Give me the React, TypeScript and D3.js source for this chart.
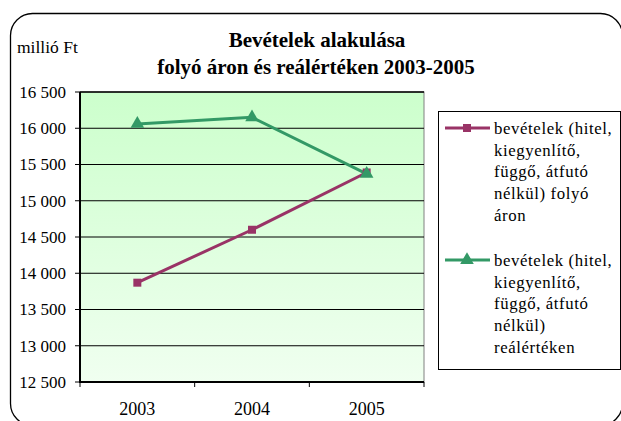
import React from "react";
import * as d3 from "d3";

const years = ["2003", "2004", "2005"];
const folyoAron = [13870, 14600, 15390];
const realErtek = [16060, 16150, 15370];
const yTicks = [12500, 13000, 13500, 14000, 14500, 15000, 15500, 16000, 16500];
const titleLines = ["Bevételek alakulása", "folyó áron és reálértéken 2003-2005"];
const unitLabel = "millió Ft";
const legend1 = ["bevételek (hitel,", "kiegyenlítő,", "függő, átfutó", "nélkül) folyó", "áron"];
const legend2 = ["bevételek (hitel,", "kiegyenlítő,", "függő, átfutó", "nélkül)", "reálértéken"];

const FONT = "Liberation Serif";
const C1 = "#993366";
const C2 = "#339966";
const ts = (size: number, bold = false, ls = 0): React.CSSProperties => ({ fontFamily: FONT, fontSize: size, fontWeight: bold ? "bold" : "normal", letterSpacing: ls });

export default function App() {
  const W = 621, H = 421;
  const L = 80, R = 424, T = 92, B = 382;
  const x = d3.scaleBand<string>().domain(years).range([L, R]);
  const y = d3.scaleLinear().domain([12500, 16500]).range([B, T]);
  const fmt = d3.formatLocale({ thousands: " ", grouping: [3], decimal: ",", currency: ["", ""] }).format(",");
  const line = d3.line<number>().x((_, i) => x(years[i])! + x.bandwidth() / 2).y((d) => y(d));
  const sq = d3.symbol().type(d3.symbolSquare).size(64)()!;
  const tri = d3.symbol().type(d3.symbolTriangle).size(80)()!;
  const catTicks = [...years.map((c) => x(c)!), R];

  const legX = 438, legY = 111, legW = 182, legH = 258;
  const lineH = 21.8;
  const e1y = 128, e2y = 260;

  return (
    <svg width={W} height={H} style={{ position: "absolute", left: 0, top: 0, background: "#fff" }}>
      <defs>
        <linearGradient id="bg" x1="0" y1="0" x2="0" y2="1">
          <stop offset="0" stopColor="#ccffcc" />
          <stop offset="1" stopColor="#f0fff0" />
        </linearGradient>
      </defs>
      <rect x={10.5} y={13.5} width={612} height={412} rx={22} ry={22} fill="#fff" stroke="#000" strokeWidth={1.3} />
      <text x={317} y={47} textAnchor="middle" style={ts(21, true)}>{titleLines[0]}</text>
      <text x={316} y={74} textAnchor="middle" style={ts(21, true)}>{titleLines[1]}</text>
      <text x={17} y={53} style={ts(17.5)}>{unitLabel}</text>

      <rect x={L} y={T} width={R - L} height={B - T} fill="url(#bg)" stroke="#808080" strokeWidth={1} />
      {yTicks.map((t) => (
        <g key={t}>
          {t !== 12500 && <line x1={L} x2={R} y1={y(t)} y2={y(t)} stroke="#000" strokeWidth={1} />}
          <line x1={L - 5} x2={L} y1={y(t)} y2={y(t)} stroke="#000" strokeWidth={1} />
          <text x={66} y={y(t)} dy="0.35em" textAnchor="end" style={ts(17)}>{fmt(t)}</text>
        </g>
      ))}
      <line x1={L} x2={R} y1={T} y2={T} stroke="#000" strokeWidth={1} />
      <line x1={L} x2={L} y1={T} y2={B + 1} stroke="#000" strokeWidth={2} />
      <line x1={L - 1} x2={R} y1={B} y2={B} stroke="#000" strokeWidth={2} />
      {catTicks.map((cx, i) => (
        <line key={i} x1={cx} x2={cx} y1={B} y2={B + 5} stroke="#000" strokeWidth={1} />
      ))}
      {years.map((c) => (
        <text key={c} x={x(c)! + x.bandwidth() / 2} y={415} textAnchor="middle" style={ts(18)}>{c}</text>
      ))}

      <path d={line(realErtek)!} fill="none" stroke={C2} strokeWidth={3} />
      <path d={line(folyoAron)!} fill="none" stroke={C1} strokeWidth={3} />
      {folyoAron.map((v, i) => (
        <path key={"s" + i} d={sq} transform={`translate(${x(years[i])! + x.bandwidth() / 2},${y(v)})`} fill={C1} />
      ))}
      {realErtek.map((v, i) => (
        <path key={"t" + i} d={tri} transform={`translate(${x(years[i])! + x.bandwidth() / 2},${y(v)})`} fill={C2} />
      ))}

      <rect x={legX + 0.5} y={legY + 0.5} width={legW} height={legH} fill="#fff" stroke="#000" strokeWidth={1} />
      <line x1={445} x2={490} y1={e1y} y2={e1y} stroke={C1} strokeWidth={3} />
      <path d={sq} transform={`translate(467,${e1y})`} fill={C1} />
      {legend1.map((s, i) => (
        <text key={"a" + i} x={494} y={e1y + i * lineH} dy="0.35em" style={ts(16.8, false, 0.6)}>{s}</text>
      ))}
      <line x1={445} x2={490} y1={e2y} y2={e2y} stroke={C2} strokeWidth={3} />
      <path d={tri} transform={`translate(467,${e2y})`} fill={C2} />
      {legend2.map((s, i) => (
        <text key={"b" + i} x={494} y={e2y + i * lineH} dy="0.35em" style={ts(16.8, false, 0.6)}>{s}</text>
      ))}
    </svg>
  );
}
